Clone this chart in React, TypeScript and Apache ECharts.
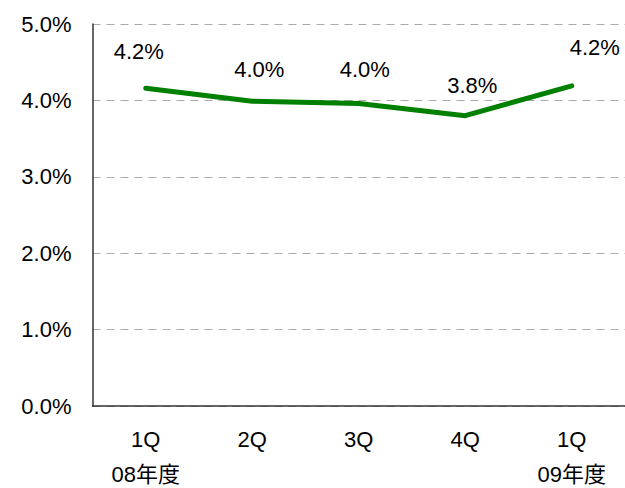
import React, { useEffect, useRef } from "react";
import * as echarts from "echarts";

const categories = ["1Q\n08年度", "2Q", "3Q", "4Q", "1Q\n09年度"];
const values = [4.16, 3.99, 3.96, 3.8, 4.19];
const labelOffsets = [[-7, -25], [7, -20], [6, -22], [7, -19], [23, -27]];
const yTicks = { min: 0, max: 5, interval: 1 };

const FONT = "'Liberation Sans', Arial, 'Noto Sans CJK JP', sans-serif";

export default function App() {
  const ref = useRef<HTMLDivElement>(null);
  useEffect(() => {
    if (!ref.current) return;
    const chart = echarts.init(ref.current, undefined, { renderer: "svg" });
    chart.setOption({
      animation: false,
      backgroundColor: "#ffffff",
      grid: {
        left: 92.5,
        right: 0,
        top: 24,
        bottom: 82,
        containLabel: false,
        outerBoundsMode: "none",
      },
      xAxis: {
        type: "category",
        data: categories,
        boundaryGap: true,
        axisLine: { lineStyle: { color: "#333", width: 1.5 } },
        axisTick: { show: false },
        axisLabel: {
          color: "#000",
          fontSize: 22,
          fontFamily: FONT,
          lineHeight: 35,
          margin: 16,
        },
      },
      yAxis: {
        type: "value",
        min: yTicks.min,
        max: yTicks.max,
        interval: yTicks.interval,
        axisLine: { show: true, lineStyle: { color: "#333", width: 1.5 } },
        axisTick: { show: false },
        axisLabel: {
          color: "#000",
          fontSize: 22,
          fontFamily: FONT,
          margin: 21,
          formatter: (v: number) => v.toFixed(1) + "%",
        },
        splitLine: {
          show: true,
          lineStyle: { color: "#aaa", type: [8, 6], width: 1 },
        },
      },
      series: [
        {
          type: "line",
          data: values.map((v, i) => ({
            value: v,
            label: { offset: labelOffsets[i] },
          })),
          symbol: "circle",
          symbolSize: 1,
          showSymbol: true,
          lineStyle: { color: "#008000", width: 5, cap: "round", join: "round" },
          itemStyle: { color: "#008000" },
          label: {
            show: true,
            position: "top",
            distance: 0,
            color: "#000",
            fontSize: 22,
            fontFamily: FONT,
            formatter: (p: any) => p.value.toFixed(1) + "%",
          },
        },
      ],
    });
    return () => chart.dispose();
  }, []);
  return <div ref={ref} style={{ width: 625, height: 488, position: "absolute", left: 0, top: 0 }} />;
}
